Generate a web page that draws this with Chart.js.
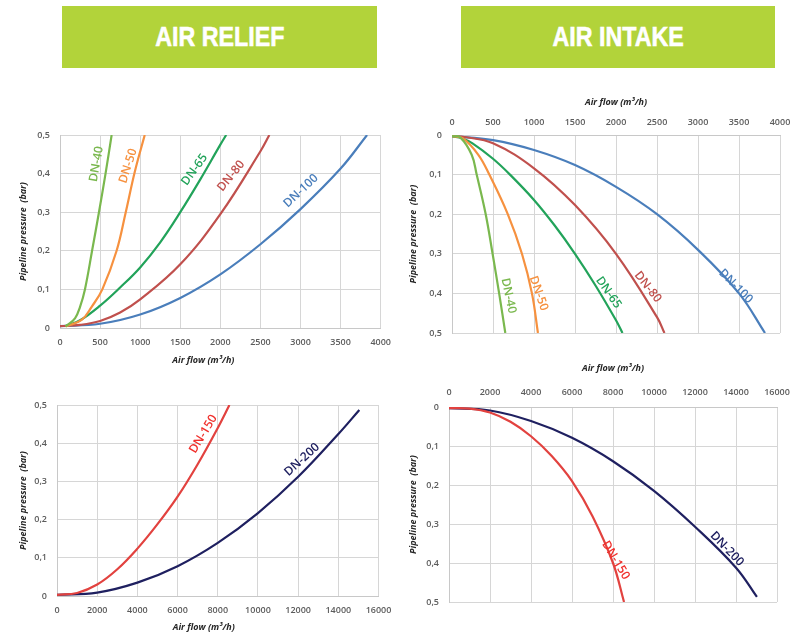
<!DOCTYPE html>
<html>
<head>
<meta charset="utf-8">
<title>Air relief / air intake flow curves</title>
<script src="https://cdn.jsdelivr.net/npm/chart.js@4/dist/chart.umd.min.js"></script>
<style>
  html, body { margin: 0; padding: 0; background: #fff; }
  body { position: relative; width: 800px; height: 633px; overflow: hidden; }
  .banner {
    position: absolute; top: 6px; height: 62px; background: #b2d33a;
    display: flex; align-items: center; justify-content: center;
  }
  .banner span {
    display: inline-block; color: #fff; font: bold 28px "Liberation Sans", Arial, sans-serif;
    transform: scaleX(0.83); white-space: nowrap;
    -webkit-text-stroke: 0.6px #fff;
  }
  canvas { position: absolute; }
</style>
</head>
<body>
<div class="banner" style="left:62px;width:315px"><span>AIR RELIEF</span></div>
<div class="banner" style="left:461px;width:314px"><span>AIR INTAKE</span></div>

<canvas id="reliefSmall" width="400" height="290" style="left:0;top:85px"></canvas>
<canvas id="intakeSmall" width="400" height="265" style="left:400px;top:85px"></canvas>
<canvas id="reliefLarge" width="400" height="258" style="left:0;top:375px"></canvas>
<canvas id="intakeLarge" width="400" height="281" style="left:400px;top:352px"></canvas>

<script>
// ---- Axis ticks ----
const pressureTicks = [0, 0.1, 0.2, 0.3, 0.4, 0.5];
const pressureTickLabels = ['0', '0,1', '0,2', '0,3', '0,4', '0,5'];
const flowTicksSmall = [0, 500, 1000, 1500, 2000, 2500, 3000, 3500, 4000];
const flowTicksLarge = [0, 2000, 4000, 6000, 8000, 10000, 12000, 14000, 16000];

// ---- Air relief, DN-40 to DN-100 (flow m³/h, pressure bar) ----
const reliefDn40Flow = [70, 187, 250, 311, 400, 486, 568, 644];
const reliefDn40Pressure = [0.004, 0.025, 0.055, 0.1, 0.2, 0.3, 0.4, 0.5];
const reliefDn50Flow = [70, 270, 395, 528, 706, 820, 933, 1057];
const reliefDn50Pressure = [0.004, 0.021, 0.055, 0.1, 0.2, 0.3, 0.405, 0.5];
const reliefDn65Flow = [70, 250, 500, 750, 1000, 1250, 1500, 1750, 2000, 2073];
const reliefDn65Pressure = [0.005, 0.02, 0.058, 0.105, 0.157, 0.222, 0.3, 0.385, 0.475, 0.5];
const reliefDn80Flow = [0, 250, 500, 750, 1000, 1500, 2000, 2500, 2611];
const reliefDn80Pressure = [0.005, 0.008, 0.018, 0.04, 0.074, 0.165, 0.295, 0.458, 0.5];
const reliefDn100Flow = [0, 500, 1000, 1500, 2000, 2500, 3000, 3500, 3830];
const reliefDn100Pressure = [0.005, 0.011, 0.035, 0.078, 0.139, 0.217, 0.308, 0.413, 0.5];

// ---- Air intake, DN-40 to DN-100 ----
const intakeDn40Flow = [0, 100, 240, 301, 411, 495, 575, 650];
const intakeDn40Pressure = [0.003, 0.006, 0.05, 0.1, 0.2, 0.3, 0.4, 0.5];
const intakeDn50Flow = [0, 130, 321, 455, 680, 853, 975, 1048];
const intakeDn50Pressure = [0.003, 0.008, 0.05, 0.1, 0.2, 0.3, 0.4, 0.5];
const intakeDn65Flow = [0, 120, 250, 500, 707, 1000, 1250, 1500, 1750, 2000, 2079];
const intakeDn65Pressure = [0.003, 0.008, 0.021, 0.06, 0.1, 0.164, 0.228, 0.3, 0.38, 0.468, 0.5];
const intakeDn80Flow = [0, 150, 500, 1000, 1500, 2000, 2500, 2591];
const intakeDn80Pressure = [0.003, 0.005, 0.021, 0.084, 0.177, 0.3, 0.46, 0.5];
const intakeDn100Flow = [0, 500, 1000, 1500, 2000, 2500, 3000, 3500, 3817];
const intakeDn100Pressure = [0.003, 0.013, 0.038, 0.076, 0.131, 0.2, 0.29, 0.4, 0.5];

// ---- Air relief, DN-150 and DN-200 ----
const reliefDn150Flow = [0, 1000, 2000, 3000, 4000, 5000, 6000, 7000, 8000, 8580];
const reliefDn150Pressure = [0.003, 0.008, 0.03, 0.07, 0.124, 0.188, 0.26, 0.345, 0.44, 0.5];
const reliefDn200Flow = [0, 2000, 4000, 6000, 8000, 10000, 12000, 14000, 15044];
const reliefDn200Pressure = [0.003, 0.009, 0.035, 0.078, 0.139, 0.217, 0.312, 0.424, 0.487];

// ---- Air intake, DN-150 and DN-200 ----
const intakeDn150Flow = [0, 1000, 2000, 3000, 4000, 5000, 6000, 7000, 8000, 8538];
const intakeDn150Pressure = [0.003, 0.004, 0.014, 0.038, 0.075, 0.125, 0.19, 0.28, 0.4, 0.5];
const intakeDn200Flow = [0, 2000, 4000, 6000, 8000, 10000, 12000, 14000, 15020];
const intakeDn200Pressure = [0.003, 0.009, 0.036, 0.079, 0.139, 0.215, 0.307, 0.412, 0.487];

// ---- Styling ----
const colors = {
  dn40: '#7ab84e', dn50: '#f6913f', dn65: '#22a35a', dn80: '#c0504d',
  dn100: '#4a7ebb', dn150: '#e2423f', dn200: '#1f2060'
};
const gridColor = '#d6d6d6';
const tickFont = { family: 'Open Sans', size: 9, weight: '600' };
const tickColor = '#5c5c5c';
const titleFont = { family: 'Open Sans', size: 9, style: 'italic', weight: 'bold' };
const titleColor = '#262626';
const flowTitle = 'Air flow (m³/h)';
const pressureTitle = 'Pipeline pressure  (bar)';

function curve(name, flow, pressure, color) {
  return {
    label: name,
    data: flow.map((q, i) => ({ x: q, y: pressure[i] })),
    borderColor: color,
    borderWidth: 2.2,
    pointRadius: 0,
    fill: false,
    tension: 0.4
  };
}

// Rotated DN captions placed next to their curves
const curveLabelPlugin = {
  id: 'curveLabels',
  afterDatasetsDraw(chart, args, opts) {
    const { ctx, scales: { x, y } } = chart;
    ctx.save();
    ctx.font = '600 12px "Open Sans"';
    ctx.textAlign = 'center';
    ctx.textBaseline = 'middle';
    for (const it of opts.items || []) {
      ctx.save();
      ctx.translate(x.getPixelForValue(it.flow), y.getPixelForValue(it.pressure));
      ctx.rotate(it.angle * Math.PI / 180);
      ctx.fillStyle = it.color;
      ctx.fillText(it.text, 0, 0);
      ctx.restore();
    }
    ctx.restore();
  }
};

// Flow caption under the relief charts, set slightly left of the plot centre
const flowCaptionPlugin = {
  id: 'flowCaption',
  afterDraw(chart, args, opts) {
    if (!opts.show) return;
    const { ctx, chartArea } = chart;
    ctx.save();
    ctx.font = 'italic bold 9px "Open Sans"';
    ctx.fillStyle = titleColor;
    ctx.textAlign = 'center';
    ctx.textBaseline = 'middle';
    ctx.fillText(flowTitle, (chartArea.left + chartArea.right) / 2 + opts.dx, chartArea.bottom + opts.dy);
    ctx.restore();
  }
};

function buildChart(id, cfg) {
  const intake = cfg.intake;
  new Chart(document.getElementById(id), {
    type: 'line',
    data: { datasets: cfg.datasets },
    options: {
      responsive: false,
      animation: false,
      devicePixelRatio: 1,
      layout: { padding: cfg.padding },
      plugins: {
        legend: { display: false },
        tooltip: { enabled: false },
        curveLabels: { items: cfg.labels },
        flowCaption: { show: !intake, dx: cfg.captionDx || 0, dy: cfg.captionDy || 0 }
      },
      scales: {
        x: {
          type: 'linear',
          position: intake ? 'top' : 'bottom',
          min: 0,
          max: cfg.flowTicks[cfg.flowTicks.length - 1],
          afterBuildTicks: s => { s.ticks = cfg.flowTicks.map(v => ({ value: v })); },
          afterFit: s => { s.height = cfg.xAxisHeight; },
          grid: { color: gridColor, lineWidth: 1, drawTicks: false },
          border: { color: '#c8c8c8' },
          ticks: {
            autoSkip: false, maxRotation: 0, padding: cfg.xTickPad,
            font: tickFont, color: tickColor,
            callback: v => String(v)
          },
          title: {
            display: intake, text: flowTitle, font: titleFont, color: titleColor,
            padding: { top: 0, bottom: 0 }
          }
        },
        y: {
          type: 'linear',
          reverse: intake,
          min: 0,
          max: 0.5,
          afterBuildTicks: s => { s.ticks = pressureTicks.map(v => ({ value: v })); },
          afterFit: s => { s.width = cfg.yAxisWidth; },
          grid: { color: gridColor, lineWidth: 1, drawTicks: false },
          border: { color: '#c8c8c8' },
          ticks: {
            autoSkip: false, padding: 10, font: tickFont, color: tickColor,
            callback: v => pressureTickLabels[pressureTicks.indexOf(v)]
          },
          title: {
            display: true, text: pressureTitle, font: titleFont, color: titleColor,
            padding: { top: cfg.yTitlePad, bottom: 0 }
          }
        }
      }
    },
    plugins: [curveLabelPlugin, flowCaptionPlugin]
  });
}

// AIR RELIEF, DN-40 ... DN-100
buildChart('reliefSmall', {
  intake: false,
  flowTicks: flowTicksSmall,
  padding: { left: 0, top: 50, right: 19, bottom: 9 },
  yAxisWidth: 60, xAxisHeight: 38, xTickPad: 9, yTitlePad: 17.6,
  captionDx: -17, captionDy: 32,
  datasets: [
    curve('DN-40', reliefDn40Flow, reliefDn40Pressure, colors.dn40),
    curve('DN-50', reliefDn50Flow, reliefDn50Pressure, colors.dn50),
    curve('DN-65', reliefDn65Flow, reliefDn65Pressure, colors.dn65),
    curve('DN-80', reliefDn80Flow, reliefDn80Pressure, colors.dn80),
    curve('DN-100', reliefDn100Flow, reliefDn100Pressure, colors.dn100)
  ],
  labels: [
    { text: 'DN-40', flow: 456, pressure: 0.425, angle: -80, color: colors.dn40 },
    { text: 'DN-50', flow: 850, pressure: 0.42, angle: -72, color: colors.dn50 },
    { text: 'DN-65', flow: 1679, pressure: 0.41, angle: -54, color: colors.dn65 },
    { text: 'DN-80', flow: 2135, pressure: 0.394, angle: -51, color: colors.dn80 },
    { text: 'DN-100', flow: 3005, pressure: 0.355, angle: -43, color: colors.dn100 }
  ]
});

// AIR INTAKE, DN-40 ... DN-100
buildChart('intakeSmall', {
  intake: true,
  flowTicks: flowTicksSmall,
  padding: { left: 0, top: 12, right: 20, bottom: 17 },
  yAxisWidth: 52, xAxisHeight: 38, xTickPad: 7.6, yTitlePad: 7.6,
  datasets: [
    curve('DN-40', intakeDn40Flow, intakeDn40Pressure, colors.dn40),
    curve('DN-50', intakeDn50Flow, intakeDn50Pressure, colors.dn50),
    curve('DN-65', intakeDn65Flow, intakeDn65Pressure, colors.dn65),
    curve('DN-80', intakeDn80Flow, intakeDn80Pressure, colors.dn80),
    curve('DN-100', intakeDn100Flow, intakeDn100Pressure, colors.dn100)
  ],
  labels: [
    { text: 'DN-40', flow: 690, pressure: 0.406, angle: 78, color: colors.dn40 },
    { text: 'DN-50', flow: 1056, pressure: 0.40, angle: 71, color: colors.dn50 },
    { text: 'DN-65', flow: 1909, pressure: 0.398, angle: 55, color: colors.dn65 },
    { text: 'DN-80', flow: 2388, pressure: 0.384, angle: 52, color: colors.dn80 },
    { text: 'DN-100', flow: 3460, pressure: 0.382, angle: 45, color: colors.dn100 }
  ]
});

// AIR RELIEF, DN-150 and DN-200
buildChart('reliefLarge', {
  intake: false,
  flowTicks: flowTicksLarge,
  padding: { left: 0, top: 30, right: 19, bottom: 1 },
  yAxisWidth: 57, xAxisHeight: 36, xTickPad: 8.6, yTitlePad: 17.6,
  captionDx: -14, captionDy: 31,
  datasets: [
    curve('DN-150', reliefDn150Flow, reliefDn150Pressure, colors.dn150),
    curve('DN-200', reliefDn200Flow, reliefDn200Pressure, colors.dn200)
  ],
  labels: [
    { text: 'DN-150', flow: 7283, pressure: 0.424, angle: -59, color: '#f0302c' },
    { text: 'DN-200', flow: 12193, pressure: 0.357, angle: -42, color: colors.dn200 }
  ]
});

// AIR INTAKE, DN-150 and DN-200
buildChart('intakeLarge', {
  intake: true,
  flowTicks: flowTicksLarge,
  padding: { left: 0, top: 11, right: 23, bottom: 31 },
  yAxisWidth: 49, xAxisHeight: 44, xTickPad: 9.6, yTitlePad: 7.6,
  datasets: [
    curve('DN-150', intakeDn150Flow, intakeDn150Pressure, colors.dn150),
    curve('DN-200', intakeDn200Flow, intakeDn200Pressure, colors.dn200)
  ],
  labels: [
    { text: 'DN-150', flow: 8130, pressure: 0.393, angle: 59, color: '#f0302c' },
    { text: 'DN-200', flow: 13556, pressure: 0.364, angle: 46, color: colors.dn200 }
  ]
});
</script>
</body>
</html>
